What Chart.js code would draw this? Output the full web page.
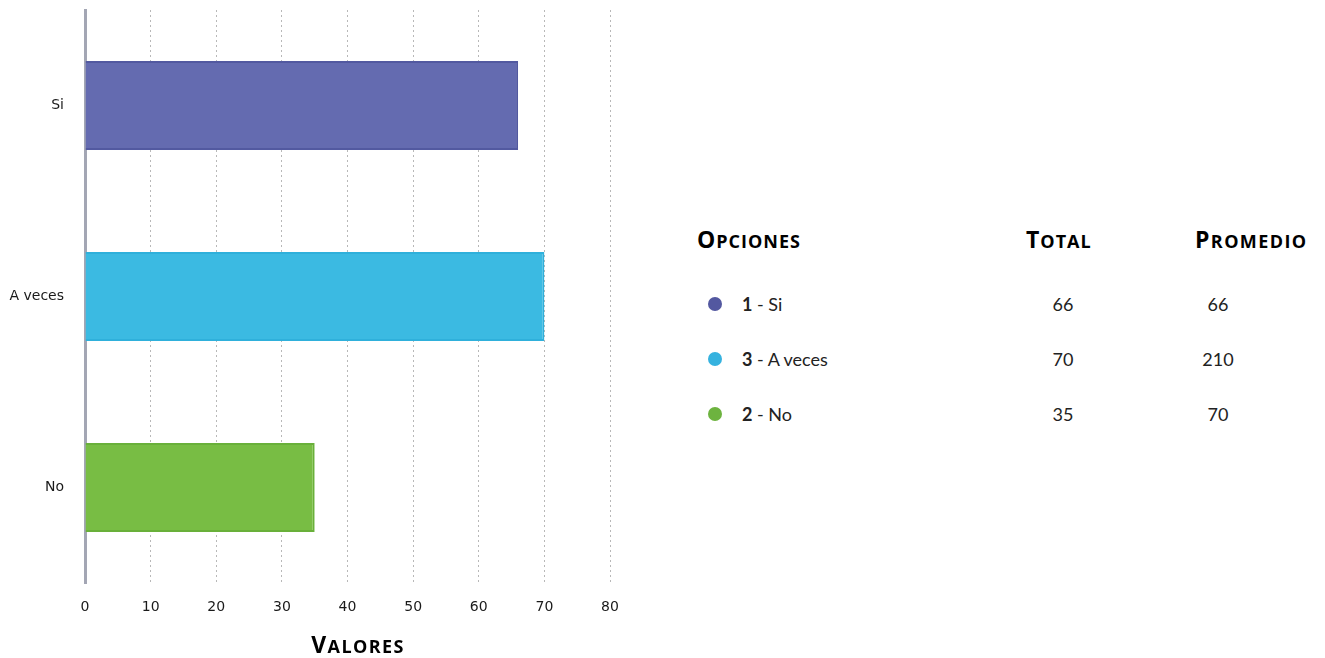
<!DOCTYPE html>
<html>
<head>
<meta charset="utf-8">
<script src="https://cdn.jsdelivr.net/npm/chart.js@4/dist/chart.umd.min.js"></script>
<style>
  html, body { margin: 0; padding: 0; background: #fff; }
  #wrap { position: relative; width: 1325px; height: 658px; overflow: hidden; font-family: Lato, "Open Sans", sans-serif; }
  #chartBox { position: absolute; left: 0; top: 0; width: 640px; height: 658px; }
  .hdr { position: absolute; font-family: "Open Sans", Lato, sans-serif; font-weight: 700; color: #000; letter-spacing: 1px; white-space: nowrap; line-height: 1; }
  .hdr .big { font-size: 23px; }
  .hdr .sm { font-size: 18px; }
  .row { position: absolute; font-size: 18px; color: #222; white-space: nowrap; line-height: 1; }
  .dot { position: absolute; width: 14px; height: 14px; border-radius: 50%; }
  .num { position: absolute; font-size: 18px; color: #222; width: 80px; text-align: center; line-height: 1; }
</style>
</head>
<body>
<div id="wrap">
  <div id="chartBox"><canvas id="c"></canvas></div>
  <div id="table"></div>
</div>
<script>
const categories = ["Si", "A veces", "No"];
const values = [66, 70, 35];
const optionIds = [1, 3, 2];
const totals = [66, 70, 35];
const promedios = [66, 210, 70];
const xTicks = [0, 10, 20, 30, 40, 50, 60, 70, 80];
const xAxisTitle = "VALORES";
const headers = ["OPCIONES", "TOTAL", "PROMEDIO"];
const barColors = ["#646BB0", "#3BBAE2", "#78BD44"];
const barBorders = ["#5259A0", "#2FB0DB", "#69B03A"];
const dotColors = ["#5358A0", "#35B2DF", "#6DB33F"];

const wrap = document.getElementById('wrap');
const table = document.getElementById('table');
function smallCaps(text, left, top, parent, extra) {
  const d = document.createElement('div');
  d.className = 'hdr';
  d.style.left = left + 'px';
  d.style.top = top + 'px';
  if (extra) Object.assign(d.style, extra);
  d.innerHTML = '<span class="big">' + text[0] + '</span><span class="sm">' + text.slice(1) + '</span>';
  parent.appendChild(d);
}
smallCaps(headers[0], 697, 228, table);
smallCaps(headers[1], 1026, 228, table);
smallCaps(headers[2], 1195, 228, table, { letterSpacing: '1.4px' });
// x axis title (below the Chart.js axis)
smallCaps(xAxisTitle, 258, 633, wrap, { width: '200px', textAlign: 'center', letterSpacing: '1.4px' });

const rowCenters = [304, 359, 414];
categories.forEach((cat, i) => {
  const cy = rowCenters[i];
  const dot = document.createElement('div');
  dot.className = 'dot';
  dot.style.left = '708px';
  dot.style.top = (cy - 7) + 'px';
  dot.style.background = dotColors[i];
  table.appendChild(dot);
  const r = document.createElement('div');
  r.className = 'row';
  r.style.left = '742px';
  r.style.top = (cy - 9) + 'px';
  r.innerHTML = '<b>' + optionIds[i] + '</b> - ' + cat;
  table.appendChild(r);
  const t = document.createElement('div');
  t.className = 'num';
  t.style.left = (1063 - 40) + 'px';
  t.style.top = (cy - 9) + 'px';
  t.textContent = totals[i];
  table.appendChild(t);
  const p = document.createElement('div');
  p.className = 'num';
  p.style.left = (1218 - 40) + 'px';
  p.style.top = (cy - 9) + 'px';
  p.textContent = promedios[i];
  table.appendChild(p);
});

new Chart(document.getElementById('c'), {
  type: 'bar',
  data: {
    labels: categories,
    datasets: [{
      data: values,
      backgroundColor: barColors,
      borderColor: barBorders,
      borderWidth: 2,
      barPercentage: 0.466,
      categoryPercentage: 1.0
    }]
  },
  options: {
    indexAxis: 'y',
    responsive: true,
    maintainAspectRatio: false,
    animation: false,
    layout: { padding: { left: 0, right: 30, top: 10, bottom: 0 } },
    plugins: { legend: { display: false }, tooltip: { enabled: false } },
    scales: {
      x: {
        min: 0, max: 80,
        afterBuildTicks: (s) => { s.ticks = xTicks.map(v => ({ value: v })); },
        afterFit: (s) => { s.height = 75; },
        border: { display: false, dash: [2, 3] },
        grid: {
          drawTicks: false,
          color: (ctx) => ctx.tick && ctx.tick.value === 0 ? 'rgba(0,0,0,0)' : '#B8B8B8',
          lineWidth: 1
        },
        ticks: { padding: 16, color: '#1a1a1a', font: { family: 'DejaVu Sans', size: 14 } },
        title: { display: false, text: xAxisTitle }
      },
      y: {
        afterFit: (s) => { s.width = 85; s.paddingTop = 0; s.paddingBottom = 0; },
        border: { display: true, color: '#A3A6B4', width: 3 },
        grid: { display: false, drawTicks: false },
        ticks: { padding: 21, color: '#1a1a1a', font: { family: 'DejaVu Sans', size: 14 } }
      }
    }
  }
});
</script>
</body>
</html>
